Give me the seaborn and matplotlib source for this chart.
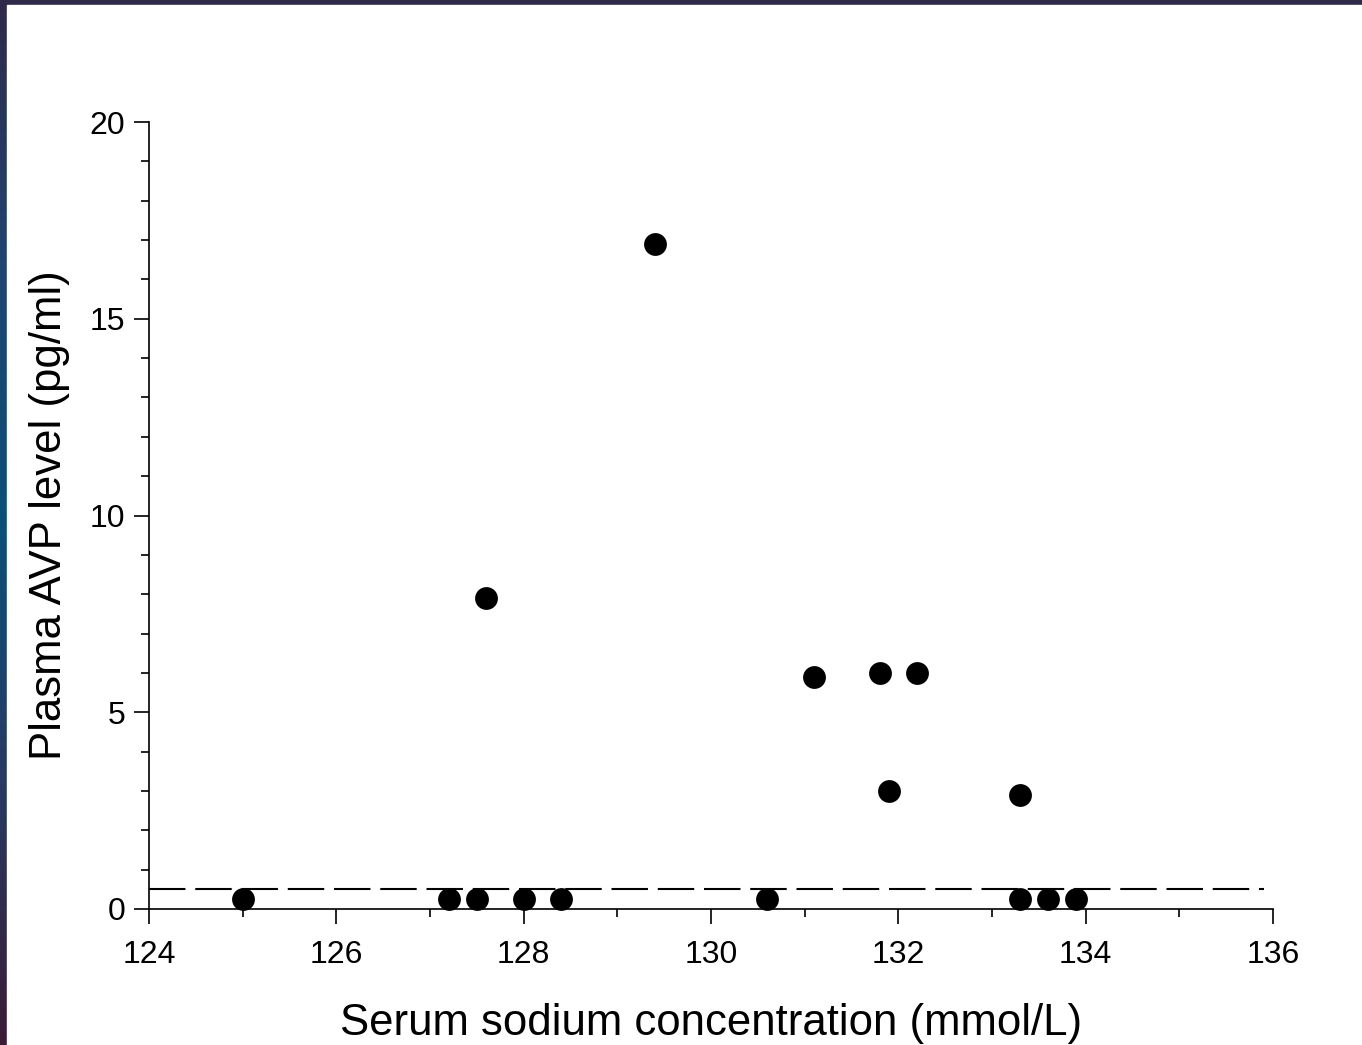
import numpy as np
import pandas as pd
import seaborn as sns
import matplotlib.pyplot as plt
from matplotlib.colors import LinearSegmentedColormap
from matplotlib.ticker import MultipleLocator

# serum sodium (mmol/L) vs plasma AVP (pg/ml)
sodium = [125.0, 127.2, 127.5, 128.0, 128.4, 130.6, 133.3, 133.6, 133.9,
          127.6, 129.4, 131.1, 131.8, 132.2, 131.9, 133.3]
avp = [0.25, 0.25, 0.25, 0.25, 0.25, 0.25, 0.25, 0.25, 0.25,
       7.9, 16.9, 5.9, 6.0, 6.0, 3.0, 2.9]
detection_limit = 0.5

df = pd.DataFrame({"sodium": sodium, "avp": avp})

sns.set_theme(style="ticks")
plt.rcParams['font.family'] = ['Liberation Sans', 'DejaVu Sans']

fig = plt.figure(figsize=(13.62, 10.45), dpi=100)

# slide-style border: gradient band on the left, dark band on top
bg = fig.add_axes([0, 0, 1, 1], zorder=-10)
bg.set_axis_off()
cmap = LinearSegmentedColormap.from_list(
    "band", ["#3b1b36", "#283a62", "#0b5078", "#1f4470", "#302a4a"])
grad = np.linspace(0, 1, 256).reshape(-1, 1)
bg.imshow(grad, aspect="auto", cmap=cmap, extent=[0, 1, 0, 1], origin="lower")
bg.add_patch(plt.Rectangle((7 / 1362, 0), 1, 1 - 5 / 1045,
                           color="white", transform=bg.transAxes, zorder=2))
bg.set_xlim(0, 1)
bg.set_ylim(0, 1)

ax = fig.add_axes([149 / 1362, 136 / 1045, 1124 / 1362, 787 / 1045])
ax.patch.set_alpha(0)

ax.plot([124, 135.9], [detection_limit, detection_limit], color="black",
        lw=1.5, dashes=(17.5, 4.7))
sns.scatterplot(data=df, x="sodium", y="avp", ax=ax, color="black",
                s=270, edgecolor="black", linewidth=0, zorder=3, clip_on=False)

ax.set_xlim(124, 136)
ax.set_ylim(0, 20)
ax.xaxis.set_major_locator(MultipleLocator(2))
ax.xaxis.set_minor_locator(MultipleLocator(1))
ax.yaxis.set_major_locator(MultipleLocator(5))
ax.yaxis.set_minor_locator(MultipleLocator(1))
ax.tick_params(which="major", direction="out", length=11, width=1.2,
               labelsize=23, colors="black", labelcolor="black")
ax.tick_params(axis="x", which="major", pad=11)
ax.tick_params(axis="y", which="major", pad=6)
ax.tick_params(which="minor", direction="out", length=6, width=1.2,
               colors="black")
sns.despine(ax=ax)
for s in ["left", "bottom"]:
    ax.spines[s].set_linewidth(1.2)
    ax.spines[s].set_color("black")

ax.set_xlabel("Serum sodium concentration (mmol/L)", fontsize=31.5,
              labelpad=24, color="black")
ax.set_ylabel("Plasma AVP level (pg/ml)", fontsize=31.5, labelpad=14,
              color="black")

fig.savefig("out.png", dpi=100)
